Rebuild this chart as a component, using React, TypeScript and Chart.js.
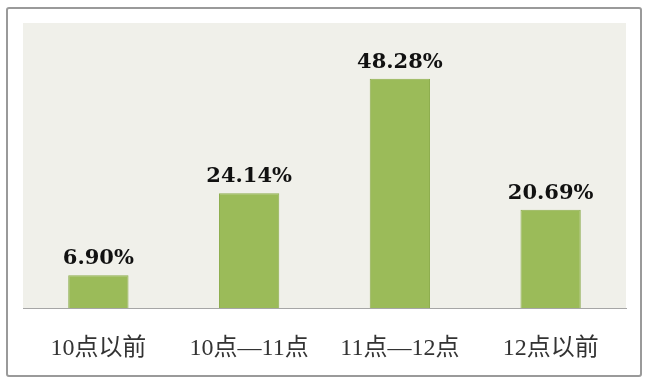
import React, { useEffect, useRef } from "react";
import { Chart, registerables } from "chart.js";

Chart.register(...registerables);

const categories = ["10点以前", "10点—11点", "11点—12点", "12点以前"];
const values = [6.9, 24.14, 48.28, 20.69];
const valueLabels = ["6.90%", "24.14%", "48.28%", "20.69%"];

const bgPlugin = {
  id: "plotBg",
  beforeDraw(chart: any) {
    const { ctx, chartArea } = chart;
    ctx.save();
    ctx.fillStyle = "#f0f0ea";
    ctx.fillRect(chartArea.left, chartArea.top, chartArea.right - chartArea.left, chartArea.bottom - chartArea.top);
    ctx.restore();
  },
};

const labelPlugin = {
  id: "valueLabels",
  afterDatasetsDraw(chart: any) {
    const { ctx } = chart;
    const meta = chart.getDatasetMeta(0);
    ctx.save();
    ctx.font = "bold 21px 'DejaVu Serif', serif";
    ctx.fillStyle = "#111";
    ctx.textAlign = "center";
    ctx.textBaseline = "alphabetic";
    meta.data.forEach((bar: any, i: number) => {
      ctx.fillText(valueLabels[i], bar.x, bar.y - 11);
    });
    ctx.restore();
  },
};

export default function App() {
  const ref = useRef<HTMLCanvasElement>(null);
  useEffect(() => {
    const chart = new Chart(ref.current!, {
      type: "bar",
      data: {
        labels: categories,
        datasets: [
          {
            data: values,
            backgroundColor: "#9bbb59",
            borderColor: "#8eae4f",
            borderWidth: 1,
            categoryPercentage: 1,
            barPercentage: 0.4,
          },
        ],
      },
      options: {
        animation: false,
        responsive: false,
        maintainAspectRatio: false,
        layout: { padding: { left: 23, right: 22, top: 23, bottom: 0 } },
        plugins: { legend: { display: false }, tooltip: { enabled: false } },
        scales: {
          x: {
            grid: { display: false, drawTicks: false },
            border: { display: true, color: "#a6a6a6", width: 1 },
            afterFit(scale: any) {
              scale.height = 73;
            },
            ticks: {
              padding: 26,
              color: "#333",
              font: { size: 24, family: "'Liberation Serif', 'Noto Sans CJK SC', serif" },
            },
          },
          y: { display: false, min: 0, max: 60 },
        },
      },
      plugins: [bgPlugin, labelPlugin],
    });
    return () => chart.destroy();
  }, []);
  return (
    <div style={{ position: "fixed", left: 0, top: 0, width: 648, height: 381, background: "#fff" }}>
      <div
        style={{
          position: "absolute",
          left: 6,
          top: 7,
          width: 632,
          height: 366,
          border: "2px solid #9a9a9a",
          borderRadius: 3,
        }}
      />
      <canvas ref={ref} width={648} height={381} style={{ position: "absolute", left: 0, top: 0 }} />
    </div>
  );
}
